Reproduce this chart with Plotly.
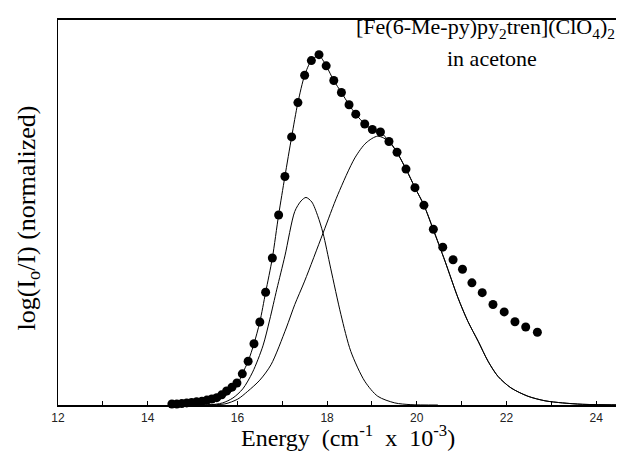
import plotly.graph_objects as go

# Experimental points (energy in 10^3 cm^-1, normalized absorbance)
dot_energy = [14.54, 14.65, 14.76, 14.87, 14.98, 15.09, 15.21, 15.32, 15.43, 15.54,
              15.65, 15.76, 15.88, 15.99, 16.11, 16.24, 16.37, 16.50, 16.63, 16.78,
              16.92, 17.06, 17.21, 17.35, 17.50, 17.65, 17.82, 17.98, 18.15, 18.32,
              18.49, 18.64, 18.84, 19.01, 19.19, 19.38, 19.56, 19.76, 19.96, 20.16,
              20.37, 20.58, 20.81, 21.02, 21.23, 21.46, 21.70, 21.95, 22.19, 22.43,
              22.69]
dot_value = [0.003, 0.003, 0.004, 0.006, 0.007, 0.009, 0.011, 0.014, 0.017, 0.021,
             0.029, 0.040, 0.051, 0.063, 0.089, 0.125, 0.175, 0.237, 0.322, 0.420,
             0.543, 0.653, 0.766, 0.864, 0.942, 0.984, 1.001, 0.969, 0.927, 0.893,
             0.858, 0.831, 0.803, 0.787, 0.780, 0.753, 0.722, 0.674, 0.621, 0.571,
             0.502, 0.451, 0.415, 0.388, 0.349, 0.321, 0.287, 0.266, 0.238, 0.223,
             0.208]

# Fitted sum curve
fit_energy = [14.50, 15.10, 15.43, 15.65, 15.88, 16.00, 16.11, 16.24, 16.37, 16.50,
              16.63, 16.78, 16.92, 17.06, 17.21, 17.35, 17.50, 17.65, 17.82, 17.98,
              18.15, 18.32, 18.49, 18.64, 18.84, 19.01, 19.19, 19.38, 19.56, 19.76,
              19.96, 20.16, 20.37, 20.63, 20.92, 21.14, 21.37, 21.59, 21.81, 22.10,
              22.48, 22.86, 23.25, 23.70, 24.71]
fit_value = [0.000, 0.002, 0.008, 0.020, 0.040, 0.058, 0.089, 0.125, 0.175, 0.237,
             0.322, 0.420, 0.543, 0.653, 0.766, 0.864, 0.942, 0.984, 0.998, 0.969,
             0.927, 0.893, 0.858, 0.831, 0.803, 0.787, 0.780, 0.753, 0.722, 0.674,
             0.621, 0.571, 0.502, 0.411, 0.306, 0.239, 0.182, 0.125, 0.082, 0.049,
             0.025, 0.012, 0.006, 0.002, 0.000]

# Narrow component band
band1_energy = [14.50, 15.34, 15.67, 15.90, 16.12, 16.34, 16.57, 16.72, 16.88, 17.06,
                17.28, 17.42, 17.53, 17.66, 17.79, 17.91, 18.08, 18.31, 18.53, 18.84,
                19.13, 19.51, 19.87, 20.47]
band1_value = [0.000, 0.000, 0.006, 0.020, 0.046, 0.094, 0.169, 0.243, 0.331, 0.426,
               0.553, 0.583, 0.593, 0.580, 0.541, 0.491, 0.391, 0.258, 0.153, 0.068,
               0.025, 0.006, 0.001, 0.000]

# Broad component band
band2_energy = [14.50, 14.89, 15.34, 15.72, 16.01, 16.23, 16.50, 16.75, 17.09, 17.28,
                17.50, 17.91, 18.24, 18.62, 18.87, 19.13, 19.40, 19.76, 19.96, 20.16,
                20.36, 20.63, 20.92, 21.14, 21.37, 21.59, 21.81, 22.10, 22.48, 22.86,
                23.25, 23.70, 24.71]
band2_value = [0.000, 0.000, 0.001, 0.003, 0.017, 0.039, 0.071, 0.115, 0.220, 0.287,
               0.354, 0.491, 0.601, 0.706, 0.749, 0.768, 0.751, 0.674, 0.621, 0.571,
               0.503, 0.411, 0.306, 0.239, 0.182, 0.125, 0.082, 0.049, 0.025, 0.012,
               0.006, 0.002, 0.000]

x_ticks = [12, 14, 16, 18, 20, 22, 24]

serif = "Liberation Serif, Times New Roman, serif"

fig = go.Figure()
line_style = dict(color="black", width=1, shape="spline", smoothing=0.8)
fig.add_trace(go.Scatter(x=band1_energy, y=band1_value, mode="lines", line=line_style,
                         hoverinfo="skip"))
fig.add_trace(go.Scatter(x=band2_energy, y=band2_value, mode="lines", line=line_style,
                         hoverinfo="skip"))
fig.add_trace(go.Scatter(x=fit_energy, y=fit_value, mode="lines", line=line_style,
                         hoverinfo="skip"))
fig.add_trace(go.Scatter(x=dot_energy, y=dot_value, mode="markers",
                         marker=dict(color="black", size=9, line=dict(width=0)),
                         cliponaxis=False))

fig.update_layout(
    width=624, height=451,
    margin=dict(l=50, r=0, t=12, b=54),
    paper_bgcolor="white", plot_bgcolor="white",
    showlegend=False,
    font=dict(family="Liberation Sans, Arial, sans-serif", color="black", size=12),
    xaxis=dict(range=[12, 24.8], tickvals=x_ticks, ticktext=[str(t) for t in x_ticks],
               ticks="inside", ticklen=4, tickcolor="black", tickwidth=1,
               minor=dict(dtick=1, tick0=12, ticks="inside", ticklen=4, tickcolor="black"),
               showline=True, linecolor="black", linewidth=1.6, mirror=True,
               showgrid=False, zeroline=False, ticklabelstandoff=1,
               tickfont=dict(size=12, color="#222")),
    yaxis=dict(range=[0, 1.1], showticklabels=False, ticks="",
               showline=True, linecolor="black", linewidth=1, mirror=False,
               showgrid=False, zeroline=False),
    annotations=[
        dict(text="Energy  (cm<sup>-1</sup>  x  10<sup>-3</sup>)", xref="paper", yref="paper",
             x=0.505, y=-0.125, xanchor="center", yanchor="bottom", showarrow=False,
             font=dict(family=serif, size=24, color="black")),
        dict(text="log(I<sub>o</sub>/I) (normalized)", xref="paper", yref="paper",
             x=-0.053, y=0.486, xanchor="center", yanchor="middle", showarrow=False,
             textangle=-90, font=dict(family=serif, size=26, color="black")),
        dict(text="[Fe(6-Me-py)py<sub>2</sub>tren](ClO<sub>4</sub>)<sub>2</sub>",
             xref="paper", yref="paper", x=0.744, y=0.978, xanchor="center",
             yanchor="middle", showarrow=False,
             font=dict(family=serif, size=22, color="black")),
        dict(text="in acetone",
             xref="paper", yref="paper", x=0.756, y=0.9, xanchor="center",
             yanchor="middle", showarrow=False,
             font=dict(family=serif, size=22, color="black")),
    ],
)

fig.write_html("out.html")
